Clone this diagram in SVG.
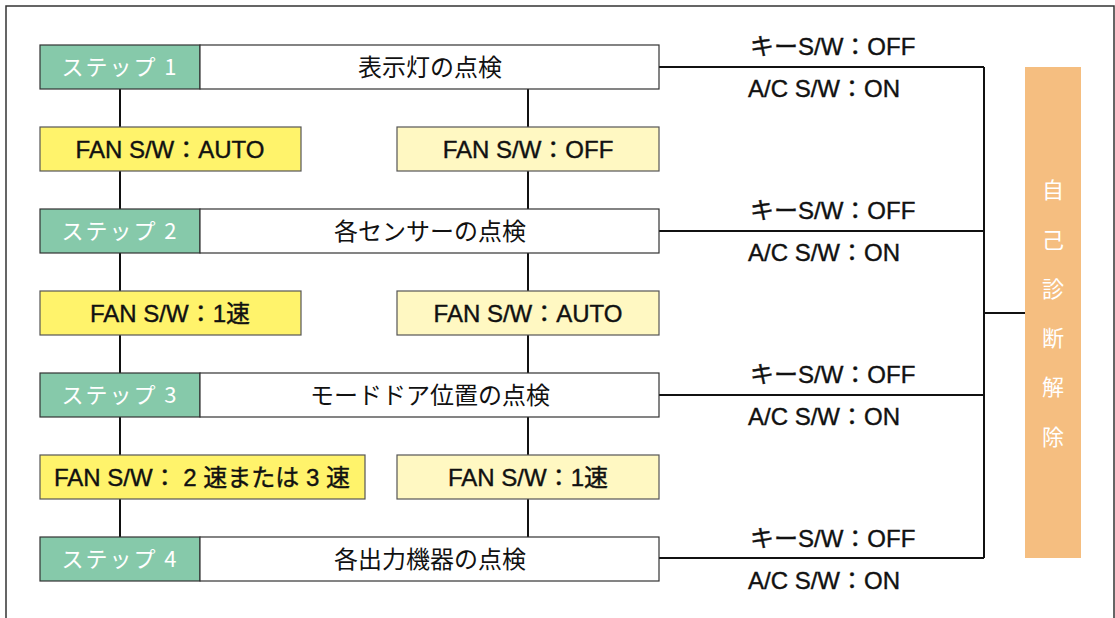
<svg xmlns="http://www.w3.org/2000/svg" width="1115" height="618" viewBox="0 0 1115 618">
<style>
.step{fill:#86C9AA;stroke:#333;stroke-width:1.2}
.main{fill:#fff;stroke:#333;stroke-width:1.2}
.y1{fill:#FFF36B;stroke:#555;stroke-width:1.2}
.y2{fill:#FFF8C2;stroke:#555;stroke-width:1.2}
.ln{fill:none;stroke:#111;stroke-width:2}
text{font-family:"Liberation Sans","Noto Sans CJK JP",sans-serif;text-anchor:middle}
.st{fill:#fff;font-size:22px;letter-spacing:2px;font-family:"Noto Sans CJK JP",sans-serif}
.mt{fill:#111;font-size:24px;font-family:"Noto Sans CJK JP",sans-serif}
.ft{fill:#111;font-size:24px;stroke:#111;stroke-width:0.4}
.sw{fill:#111;font-size:24px;text-anchor:start;stroke:#111;stroke-width:0.4}
.ot{fill:#fff;font-size:22px;font-family:"Noto Sans CJK JP",sans-serif}
</style>
<rect x="6" y="6" width="1108" height="620" fill="#fff" stroke="#333" stroke-width="1.5"/>
<g id="connectors">
<path class="ln" d="M120 89V127M120 171V209M120 253V291M120 335V373M120 417V455M120 499V537"/>
<path class="ln" d="M528 89V127M528 171V209M528 253V291M528 335V373M528 417V455M528 499V537"/>
<path class="ln" d="M659 67H984M659 231H984M659 395H984M659 558H984M984 67V558M984 313H1025"/>
</g>
<g id="step1"><rect class="step" x="40" y="45" width="160" height="44"/><text class="st" x="120" y="75">ステップ 1</text></g>
<g id="check1"><rect class="main" x="200" y="45" width="459" height="44"/><text class="mt" x="430" y="76">表示灯の点検</text></g>
<g id="fan1a"><rect class="y1" x="40" y="127" width="261" height="44"/><text class="ft" x="170" y="158">FAN S/W：AUTO</text></g>
<g id="fan1b"><rect class="y2" x="397" y="127" width="262" height="44"/><text class="ft" x="528" y="158">FAN S/W：OFF</text></g>
<g id="step2"><rect class="step" x="40" y="209" width="160" height="44"/><text class="st" x="120" y="239">ステップ 2</text></g>
<g id="check2"><rect class="main" x="200" y="209" width="459" height="44"/><text class="mt" x="430" y="240">各センサーの点検</text></g>
<g id="fan2a"><rect class="y1" x="40" y="291" width="261" height="44"/><text class="ft" x="170" y="322">FAN S/W：1速</text></g>
<g id="fan2b"><rect class="y2" x="397" y="291" width="262" height="44"/><text class="ft" x="528" y="322">FAN S/W：AUTO</text></g>
<g id="step3"><rect class="step" x="40" y="373" width="160" height="44"/><text class="st" x="120" y="403">ステップ 3</text></g>
<g id="check3"><rect class="main" x="200" y="373" width="459" height="44"/><text class="mt" x="430" y="404">モードドア位置の点検</text></g>
<g id="fan3a"><rect class="y1" x="40" y="455" width="325" height="44"/><text class="ft" x="202" y="486">FAN S/W： 2 速または 3 速</text></g>
<g id="fan3b"><rect class="y2" x="397" y="455" width="262" height="44"/><text class="ft" x="528" y="486">FAN S/W：1速</text></g>
<g id="step4"><rect class="step" x="40" y="537" width="160" height="44"/><text class="st" x="120" y="567">ステップ 4</text></g>
<g id="check4"><rect class="main" x="200" y="537" width="459" height="44"/><text class="mt" x="430" y="568">各出力機器の点検</text></g>
<g id="labels">
<text class="sw" x="750" y="55">キーS/W：OFF</text><text class="sw" x="748" y="97">A/C S/W：ON</text>
<text class="sw" x="750" y="219">キーS/W：OFF</text><text class="sw" x="748" y="261">A/C S/W：ON</text>
<text class="sw" x="750" y="383">キーS/W：OFF</text><text class="sw" x="748" y="425">A/C S/W：ON</text>
<text class="sw" x="750" y="547">キーS/W：OFF</text><text class="sw" x="748" y="589">A/C S/W：ON</text>
</g>
<g id="reset"><rect x="1025" y="67" width="56" height="491" fill="#F5BE80"/>
<text class="ot" x="1053" y="198">自</text><text class="ot" x="1053" y="248">己</text><text class="ot" x="1053" y="297">診</text><text class="ot" x="1053" y="346">断</text><text class="ot" x="1053" y="395">解</text><text class="ot" x="1053" y="445">除</text>
</g>
</svg>
